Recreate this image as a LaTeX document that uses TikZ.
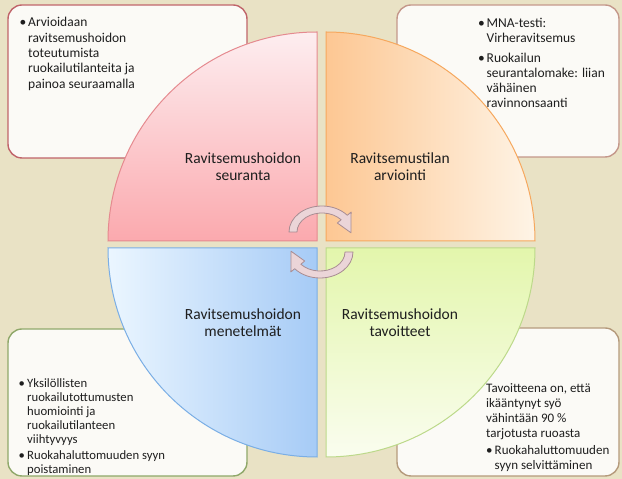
\documentclass[tikz,border=0pt]{standalone}
\usepackage{fontspec}
\setmainfont{Carlito}
\definecolor{paper}{HTML}{E9E2C5}
\definecolor{notefill}{HTML}{FBFAF6}
\definecolor{ink}{HTML}{1E1E1E}
\definecolor{tlline}{HTML}{C0646A}
\definecolor{trline}{HTML}{C4978A}
\definecolor{blline}{HTML}{8FA86A}
\definecolor{brline}{HTML}{B59A7C}
\definecolor{redline}{HTML}{E58A8F}
\definecolor{redtop}{HTML}{FDEEF0}
\definecolor{redbot}{HTML}{FBA9AE}
\definecolor{orline}{HTML}{F6A85E}
\definecolor{orleft}{HTML}{FDC793}
\definecolor{orright}{HTML}{FEF4E6}
\definecolor{bluline}{HTML}{7AAEE5}
\definecolor{bluleft}{HTML}{EBF6FF}
\definecolor{bluright}{HTML}{A6CBF6}
\definecolor{grline}{HTML}{BCD98A}
\definecolor{grtop}{HTML}{E3F6AC}
\definecolor{grbot}{HTML}{FAFDEF}
\definecolor{cycfill}{HTML}{EBD5D8}
\definecolor{cycline}{HTML}{A88C92}
\newenvironment{notelist}{\begin{tabular}[t]{@{}p{8.5pt}@{}l@{}}}{\end{tabular}}
\newcommand{\bul}{\textbullet}
\tikzset{
  notebox/.style={fill=notefill, line width=1.4pt, rounded corners=14pt},
  quarter/.style={line width=1pt},
  lbl/.style={align=center, text=ink, font=\fontsize{15.5}{17}\selectfont},
  notetext/.style={anchor=base west, inner sep=0pt, text=ink},
  cyc/.style={fill=cycfill, draw=cycline, line width=0.8pt, line join=round}
}
\begin{document}
\begin{tikzpicture}[x=1pt,y=1pt]
\useasboundingbox (0,0) rectangle (622,479);
\fill[paper] (0,0) rectangle (622,479);
% note boxes
\draw[notebox, draw=tlline] (8,321) rectangle (247,474);
\draw[notebox, draw=trline] (397,322) rectangle (619,474);
\draw[notebox, draw=blline] (8,3) rectangle (247,150);
\draw[notebox, draw=brline] (397,3) rectangle (619,151);
% quarters
\shadedraw[quarter, draw=redline, top color=redtop, bottom color=redbot]
  (317,238) -- (317,447) arc[start angle=90, end angle=180, radius=209] -- cycle;
\shadedraw[quarter, draw=orline, left color=orleft, right color=orright]
  (326,238) -- (535,238) arc[start angle=0, end angle=90, radius=209] -- cycle;
\shadedraw[quarter, draw=bluline, left color=bluleft, right color=bluright]
  (317,231) -- (108,231) arc[start angle=180, end angle=270, radius=209] -- cycle;
\shadedraw[quarter, draw=grline, top color=grtop, bottom color=grbot]
  (326,231) -- (326,22) arc[start angle=270, end angle=360, radius=209] -- cycle;
% labels
\node[lbl] (seuranta) at (243,312.5) {Ravitsemushoidon\\seuranta};
\node[lbl] (arviointi) at (400,312.5) {Ravitsemustilan\\arviointi};
\node[lbl] (menetelmat) at (243,156) {Ravitsemushoidon\\menetelmät};
\node[lbl] (tavoitteet) at (400,156) {Ravitsemushoidon\\tavoitteet};
% notes
\node[notetext, font=\fontsize{13.5}{15.3}\selectfont] (seurantanote) at (19.5,452)
  {\begin{notelist}
   \bul & Arvioidaan\\ & ravitsemushoidon\\ & toteutumista\\ & ruokailutilanteita ja\\ & painoa seuraamalla
   \end{notelist}};
\node[notetext, font=\fontsize{13.5}{15.2}\selectfont] (arviointinote) at (478,451.5)
  {\begin{notelist}
   \bul & MNA-testi:\\ & Virheravitsemus\\[4.5pt]
   \bul & Ruokailun\\ & seurantalomake: liian\\ & vähäinen\\ & ravinnonsaanti
   \end{notelist}};
\node[notetext, font=\fontsize{12.7}{14.1}\selectfont] (menetelmatnote) at (18.5,91.5)
  {\begin{notelist}
   \bul & Yksilöllisten\\ & ruokailutottumusten\\ & huomiointi ja\\ & ruokailutilanteen\\ & viihtyvyys\\[1.5pt]
   \bul & Ruokahaluttomuuden syyn\\ & poistaminen
   \end{notelist}};
\node[notetext, font=\fontsize{13}{15}\selectfont] (tavoitteetnote) at (486,86.2)
  {\begin{notelist}
   \multicolumn{2}{@{}l@{}}{Tavoitteena on, että}\\ \multicolumn{2}{@{}l@{}}{ikääntynyt syö}\\
   \multicolumn{2}{@{}l@{}}{vähintään 90~\%}\\ \multicolumn{2}{@{}l@{}}{tarjotusta ruoasta}\\[2pt]
   \bul & Ruokahaluttomuuden\\ & syyn selvittäminen
   \end{notelist}};
% cycle arrows
\begin{scope}[shift={(322,247)}]
\filldraw[cyc] (180:33 and 26) arc[start angle=180, end angle=40, x radius=33, y radius=26]
  -- (40:38 and 31) -- (-2:29 and 22.5) -- (40:20 and 14) -- (40:25 and 19)
  arc[start angle=40, end angle=180, x radius=25, y radius=19] -- cycle;
\end{scope}
\begin{scope}[rotate around={180:(321,237)}, shift={(322,247)}]
\filldraw[cyc] (180:33 and 26) arc[start angle=180, end angle=40, x radius=33, y radius=26]
  -- (40:38 and 31) -- (-2:29 and 22.5) -- (40:20 and 14) -- (40:25 and 19)
  arc[start angle=40, end angle=180, x radius=25, y radius=19] -- cycle;
\end{scope}
\end{tikzpicture}
\end{document}
